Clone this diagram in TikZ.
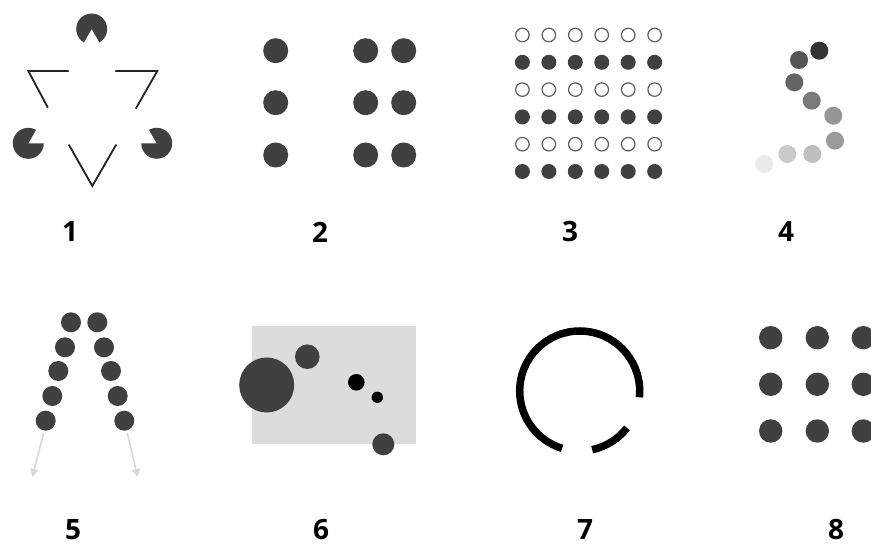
\documentclass[tikz,border=0pt]{standalone}
\usepackage{fontspec}
\setmainfont{Open Sans}
\usetikzlibrary{arrows.meta}
\definecolor{dk}{HTML}{404040}
\definecolor{ln}{HTML}{222222}
\definecolor{bg}{HTML}{DCDCDC}
\definecolor{arr}{HTML}{D8D8D8}
\begin{document}
\begin{tikzpicture}[x=1pt,y=-1pt,
  dot/.style={circle,inner sep=0pt,fill=dk,minimum size=#1},
  ring/.style={circle,inner sep=0pt,draw=dk!85,line width=1.2pt,fill=white,minimum size=#1},
  lab/.style={font=\bfseries\fontsize{28}{28}\selectfont,text=black,inner sep=0pt},
  kline/.style={draw=ln,line width=1.8pt,line cap=round,line join=miter},
  fade/.style={draw=arr,line width=1.6pt,-{Triangle[length=8pt,width=8pt]}}]
\useasboundingbox (0,0) rectangle (871,548);
\fill[white] (0,0) rectangle (871,548);

% ---------- Panel 1 : Kanizsa triangle ----------
\fill[dk] (91.7,29) -- ++(120:15.5) arc[start angle=120,end angle=420,radius=15.5] -- cycle;
\fill[dk] (28.3,143.3) -- ++(0:15.5) arc[start angle=0,end angle=300,radius=15.5] -- cycle;
\fill[dk] (156.7,143.3) -- ++(240:15.5) arc[start angle=240,end angle=540,radius=15.5] -- cycle;
\draw[kline] (68.3,71) -- (28.3,71) -- (47.7,107.3);
\draw[kline] (115.7,71) -- (157.3,71) -- (136,108.3);
\draw[kline] (69,145) -- (92.3,186) -- (116,145);
\node[lab] (l1) at (70,232) {1};

% ---------- Panel 2 ----------
\foreach \yy [count=\r] in {50.7,102.7,155} {
  \node[dot=25pt] (a\r) at (275.7,\yy) {};
  \node[dot=25pt] (b\r) at (365.7,\yy) {};
  \node[dot=25pt] (c\r) at (403.7,\yy) {};
}
\node[lab] (l2) at (320,232) {2};

% ---------- Panel 3 ----------
\foreach \j in {0,...,5} {
  \foreach \i in {0,...,5} {
    \pgfmathsetmacro{\px}{522.4+26.45*\i}
    \pgfmathsetmacro{\py}{35+27.3*\j}
    \ifodd\j
      \node[dot=15pt] (g\i\j) at (\px,\py) {};
    \else
      \node[ring=13.5pt] (g\i\j) at (\px,\py) {};
    \fi
  }
}
\node[lab] (l3) at (570,232) {3};

% ---------- Panel 4 ----------
\node[dot=18pt,fill={rgb,255:red,51;green,51;blue,51}] (s1) at (819.3,50.7) {};
\node[dot=18pt,fill={rgb,255:red,85;green,85;blue,85}] (s2) at (799,60) {};
\node[dot=18pt,fill={rgb,255:red,100;green,100;blue,100}] (s3) at (794.3,82.3) {};
\node[dot=18pt,fill={rgb,255:red,122;green,122;blue,122}] (s4) at (811.7,100.7) {};
\node[dot=18pt,fill={rgb,255:red,150;green,150;blue,150}] (s5) at (833.3,115.7) {};
\node[dot=18pt,fill={rgb,255:red,155;green,155;blue,155}] (s6) at (835,140.7) {};
\node[dot=18pt,fill={rgb,255:red,190;green,190;blue,190}] (s7) at (812.3,154) {};
\node[dot=18pt,fill={rgb,255:red,202;green,202;blue,202}] (s8) at (787.3,154) {};
\node[dot=18pt,fill={rgb,255:red,236;green,236;blue,236}] (s9) at (764.3,164) {};
\node[lab] (l4) at (786,232) {4};

% ---------- Panel 5 ----------
\node[dot=20pt] (L1) at (71,322.3) {};
\node[dot=20pt] (L2) at (65,347.3) {};
\node[dot=20pt] (L3) at (58.3,371) {};
\node[dot=20pt] (L4) at (52.3,396) {};
\node[dot=20pt] (L5) at (45.7,420.7) {};
\node[dot=20pt] (R1) at (97.3,322.3) {};
\node[dot=20pt] (R2) at (104,347.3) {};
\node[dot=20pt] (R3) at (111,371) {};
\node[dot=20pt] (R4) at (117.7,396) {};
\node[dot=20pt] (R5) at (124.3,420.7) {};
\coordinate (LA) at (32.3,477);
\coordinate (RA) at (137.7,477);
\draw[fade] (L5.south) ++(-2,2) -- (LA);
\draw[fade] (R5.south) ++(3,2) -- (RA);
\node[lab] (l5) at (73,530) {5};

% ---------- Panel 6 ----------
\fill[bg] (251.7,325.7) rectangle (415.7,444.3);
\node[dot=55pt] (big) at (266.7,385) {};
\node[dot=24.6pt] (med) at (307.3,356.7) {};
\node[dot=16.6pt,fill=black] (bk1) at (356.3,382.3) {};
\node[dot=11.4pt,fill=black] (bk2) at (377.3,397.3) {};
\node[dot=22pt] (low) at (383.3,444.3) {};
\node[lab] (l6) at (321,530) {6};

% ---------- Panel 7 ----------
\coordinate (cc) at (579.7,391);
\draw[line width=7.5pt,black] (cc) ++(6:60) arc[start angle=6,end angle=-253,radius=60];
\draw[line width=7.5pt,black] (cc) ++(78:60) arc[start angle=78,end angle=38,radius=60];
\node[lab] (l7) at (585,530) {7};

% ---------- Panel 8 ----------
\foreach \yy [count=\r] in {337.7,384.3,431} {
  \foreach \xx [count=\c] in {770.7,817.3,863.3} {
    \node[dot=23.4pt] (e\r\c) at (\xx,\yy) {};
  }
}
\node[lab] (l8) at (836,530) {8};
\end{tikzpicture}
\end{document}
